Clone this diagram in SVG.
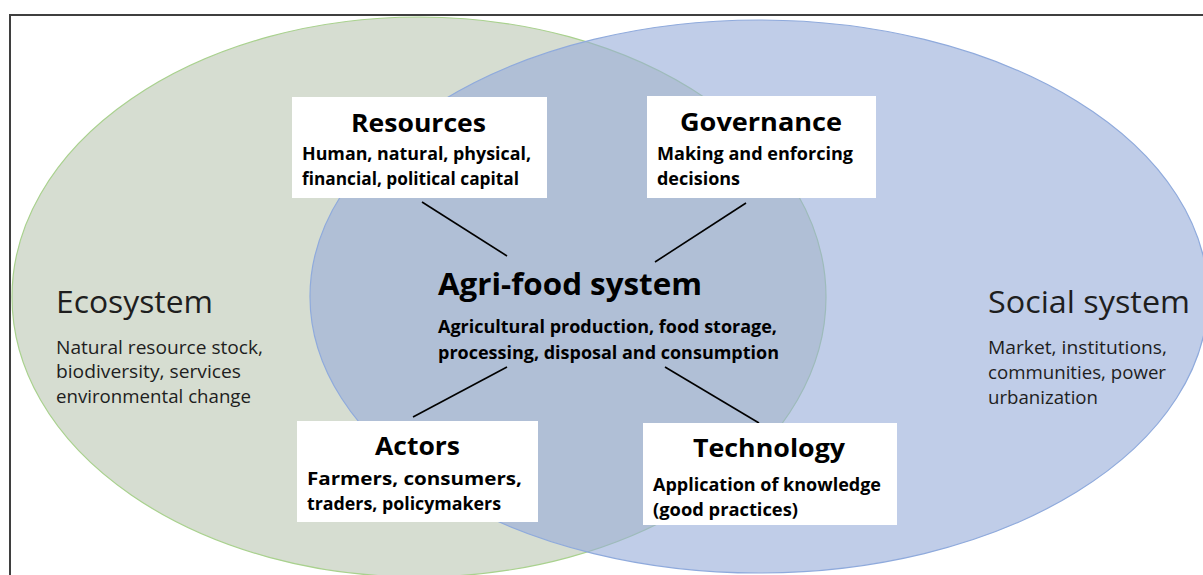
<svg xmlns="http://www.w3.org/2000/svg" width="1203" height="575" viewBox="0 0 1203 575">
  <style>
    .frame { fill: #ffffff; stroke: #3f3f3f; stroke-width: 2; }
    .eco { fill: #d6ddd1; stroke: #a9d18e; stroke-width: 1.2; }
    .soc { fill: #96acd9; fill-opacity: 0.6; stroke: #8faadc; stroke-width: 1.2; }
    .box { fill: #ffffff; }
    .link { stroke: #000000; stroke-width: 1.6; fill: none; }
    text { font-family: "Open Sans", "Noto Sans", sans-serif; }
    .ttl { font-weight: 700; font-size: 25px; fill: #000000; text-anchor: middle; }
    .sub { font-weight: 700; font-size: 17.5px; fill: #000000; }
    .big { font-weight: 700; font-size: 31px; fill: #000000; }
    .sys { font-weight: 400; font-size: 31px; fill: #1e1e1e; }
    .sysd { font-weight: 400; font-size: 18px; fill: #1e1e1e; }
  </style>

  <!-- outer frame (continues past the right and bottom edges) -->
  <rect class="frame" x="10" y="15" width="1210" height="580"/>

  <!-- the two overlapping systems -->
  <g id="ecosystem">
    <ellipse class="eco" cx="419" cy="297" rx="407" ry="280"/>
  </g>
  <g id="social-system">
    <ellipse class="soc" cx="759" cy="296.5" rx="449" ry="276.5"/>
  </g>

  <!-- connectors between the core and the four components -->
  <g id="connectors">
    <line class="link" x1="422" y1="202" x2="507" y2="256"/>
    <line class="link" x1="746" y1="203" x2="655" y2="262"/>
    <line class="link" x1="507" y1="367" x2="413" y2="417"/>
    <line class="link" x1="665" y1="367" x2="759" y2="423"/>
  </g>

  <!-- labels of the outer systems -->
  <g id="ecosystem-label">
    <text class="sys" x="56" y="313" textLength="157" lengthAdjust="spacingAndGlyphs">Ecosystem</text>
    <text class="sysd" x="56" y="354" textLength="207" lengthAdjust="spacingAndGlyphs">Natural resource stock,</text>
    <text class="sysd" x="56" y="378" textLength="185" lengthAdjust="spacingAndGlyphs">biodiversity, services</text>
    <text class="sysd" x="56" y="403" textLength="195" lengthAdjust="spacingAndGlyphs">environmental change</text>
  </g>
  <g id="social-system-label">
    <text class="sys" x="988" y="313" textLength="202" lengthAdjust="spacingAndGlyphs">Social system</text>
    <text class="sysd" x="988" y="354" textLength="179" lengthAdjust="spacingAndGlyphs">Market, institutions,</text>
    <text class="sysd" x="988" y="379" textLength="178" lengthAdjust="spacingAndGlyphs">communities, power</text>
    <text class="sysd" x="988" y="404" textLength="110" lengthAdjust="spacingAndGlyphs">urbanization</text>
  </g>

  <!-- core -->
  <g id="agri-food-system">
    <text class="big" x="438" y="295" textLength="264" lengthAdjust="spacingAndGlyphs">Agri-food system</text>
    <text class="sub" x="438" y="333" textLength="339" lengthAdjust="spacingAndGlyphs">Agricultural production, food storage,</text>
    <text class="sub" x="438" y="359" textLength="341" lengthAdjust="spacingAndGlyphs">processing, disposal and consumption</text>
  </g>

  <!-- component boxes -->
  <g id="resources">
    <rect class="box" x="292" y="97" width="255" height="101"/>
    <text class="ttl" x="418.5" y="132" textLength="135" lengthAdjust="spacingAndGlyphs">Resources</text>
    <text class="sub" x="302" y="160" textLength="229" lengthAdjust="spacingAndGlyphs">Human, natural, physical,</text>
    <text class="sub" x="302" y="185" textLength="217" lengthAdjust="spacingAndGlyphs">financial, political capital</text>
  </g>
  <g id="governance">
    <rect class="box" x="647" y="96" width="229" height="102"/>
    <text class="ttl" x="761" y="131" textLength="162" lengthAdjust="spacingAndGlyphs">Governance</text>
    <text class="sub" x="657" y="160" textLength="196" lengthAdjust="spacingAndGlyphs">Making and enforcing</text>
    <text class="sub" x="657" y="185" textLength="83" lengthAdjust="spacingAndGlyphs">decisions</text>
  </g>
  <g id="actors">
    <rect class="box" x="297" y="421" width="241" height="101"/>
    <text class="ttl" x="417.5" y="455" textLength="85" lengthAdjust="spacingAndGlyphs">Actors</text>
    <text class="sub" x="307" y="485" textLength="215" lengthAdjust="spacingAndGlyphs">Farmers, consumers,</text>
    <text class="sub" x="307" y="510" textLength="194" lengthAdjust="spacingAndGlyphs">traders, policymakers</text>
  </g>
  <g id="technology">
    <rect class="box" x="643" y="423" width="254" height="102"/>
    <text class="ttl" x="769" y="457" textLength="152" lengthAdjust="spacingAndGlyphs">Technology</text>
    <text class="sub" x="653" y="491" textLength="228" lengthAdjust="spacingAndGlyphs">Application of knowledge</text>
    <text class="sub" x="653" y="516" textLength="145" lengthAdjust="spacingAndGlyphs">(good practices)</text>
  </g>
</svg>
